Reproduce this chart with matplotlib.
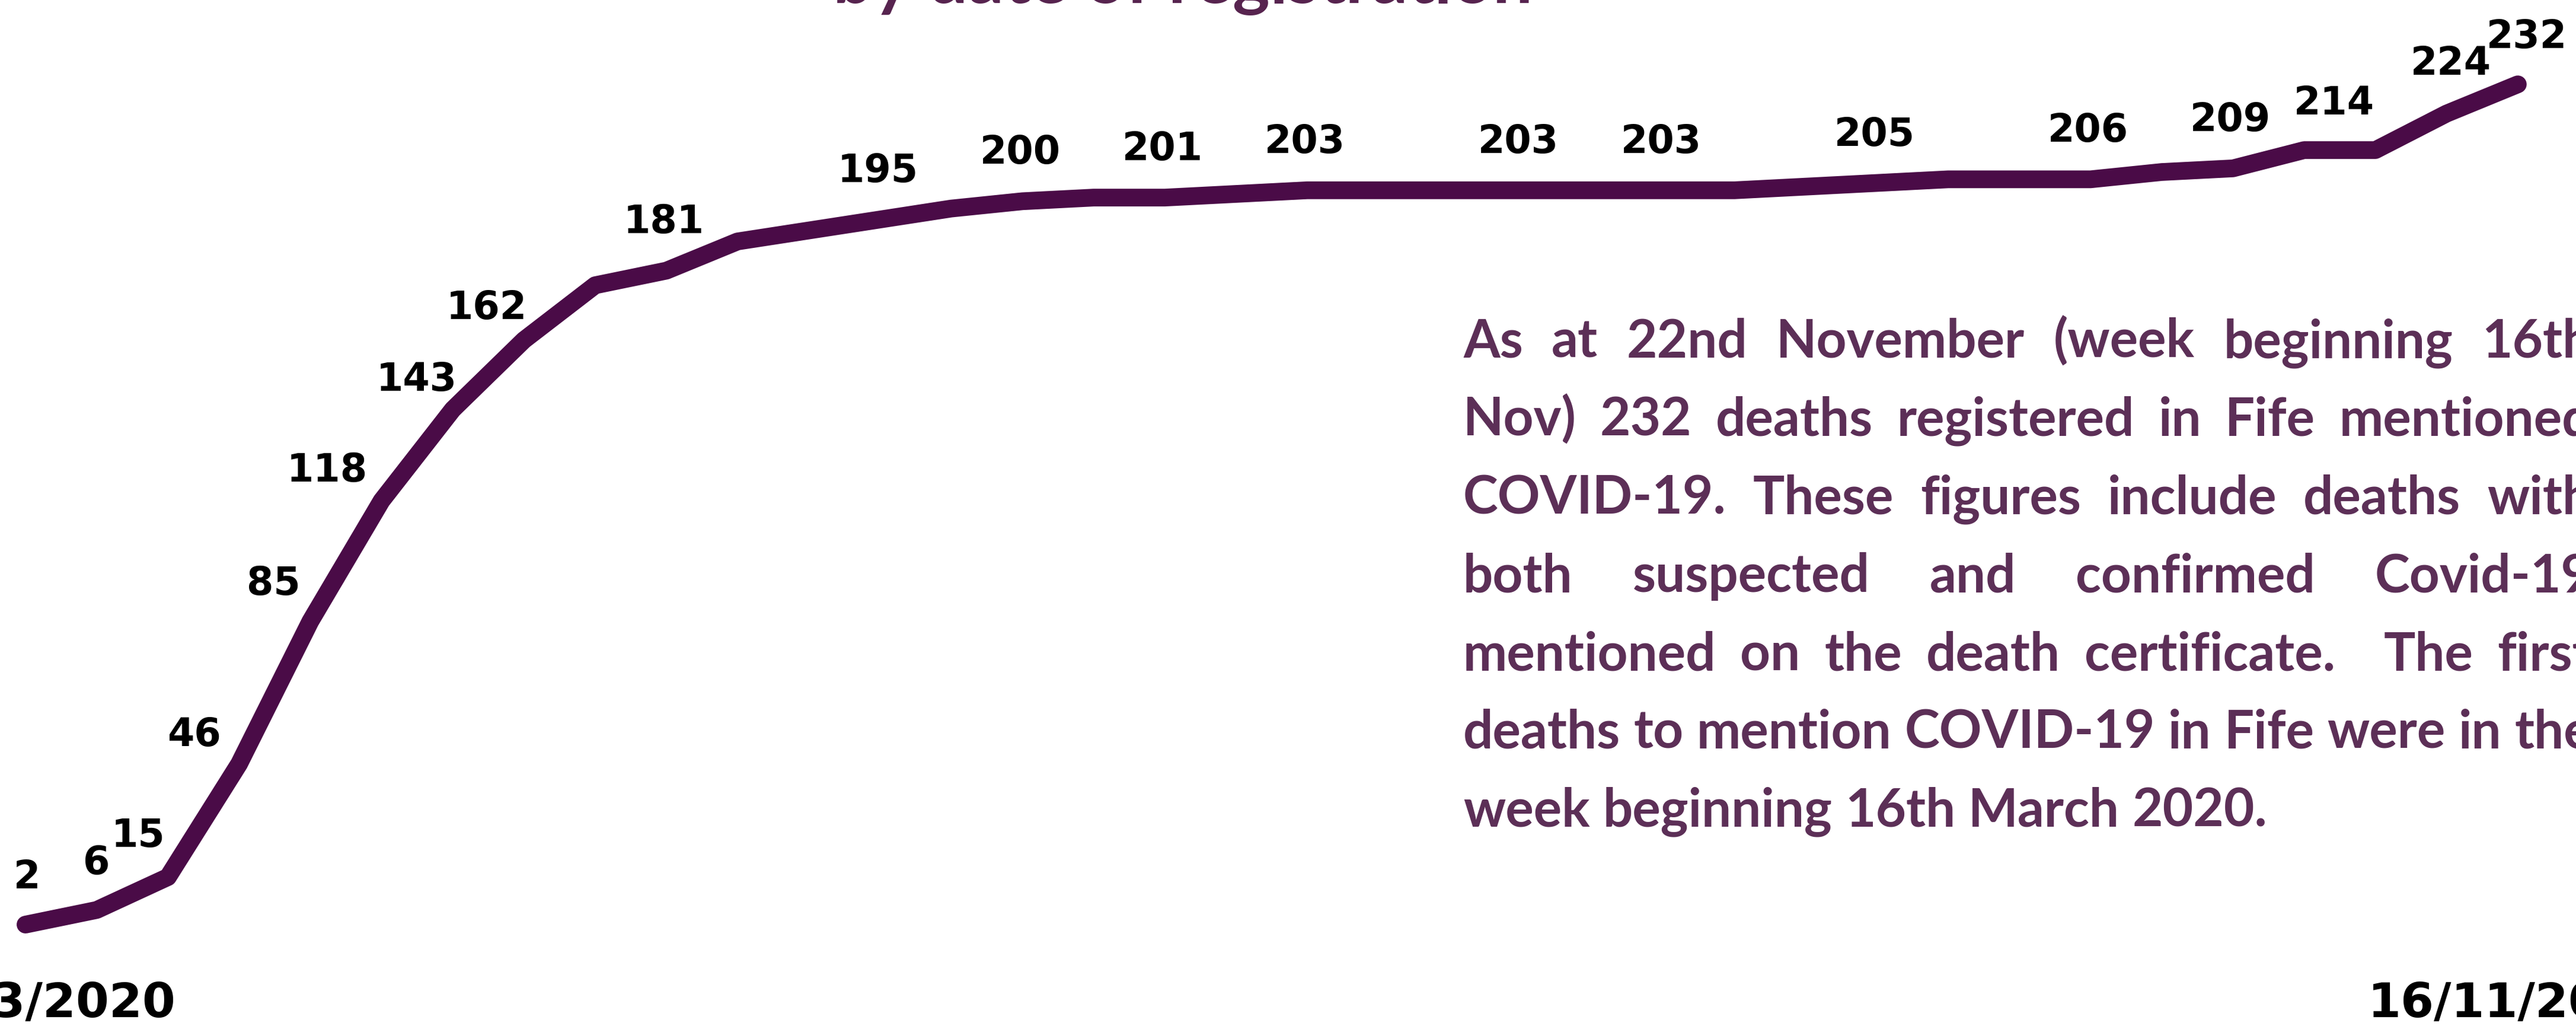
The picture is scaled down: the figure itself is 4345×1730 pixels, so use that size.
import pandas as pd
import matplotlib
matplotlib.use('Agg')
from matplotlib import pyplot as plt
from matplotlib import transforms
import matplotlib.dates as mdates

# cumulative deaths in Fife mentioning COVID-19, by week of registration
week_start = pd.date_range('2020-03-16', '2020-11-16', freq='7D')
deaths = [2, 6, 15, 46, 85, 118, 143, 162, 177, 181,
          189, 192, 195, 198, 200, 201, 201, 202, 203, 203,
          203, 203, 203, 203, 203, 204, 205, 206, 206, 206,
          208, 209, 214, 214, 224, 232]
labelled_weeks = [0, 1, 2, 3, 4, 5, 6, 7, 9, 12, 14, 16, 18, 21, 23, 26, 29, 31, 33, 34, 35]

title_tail = 'by date of registration'
note_lines = ['As at 22nd November (week beginning 16th',
              'Nov) 232 deaths registered in Fife mentioned',
              'COVID-19. These figures include deaths with',
              'both suspected and confirmed Covid-19',
              'mentioned on the death certificate.  The first',
              'deaths to mention COVID-19 in Fife were in the',
              'week beginning 16th March 2020.']

# label nudges (pixels) for the steep part where labels sit left of the line
label_shift = {0: (3, 86), 1: (0, 85), 2: (-50, 76), 3: (-76, 55), 4: (-62, 70),
               5: (-92, 57), 6: (-61, 56), 7: (-63, 60), 33: (-70, 85),
               34: (7, 90), 35: (15, 86)}

W, H, DPI = 4345, 1731, 100
LINE_COL = '#4a0b47'
TEXT_COL = '#5c2f57'

fig = plt.figure(figsize=(W / DPI, H / DPI), dpi=DPI, facecolor='white')
ax = fig.add_axes([0, 91 / H, 1, 1 - 91 / H])

ax.plot(week_start, deaths, color=LINE_COL, lw=21.5,
        solid_capstyle='round', solid_joinstyle='round')

for i in labelled_weeks:
    dx, dy = label_shift.get(i, (-4, 88))
    ax.annotate(str(deaths[i]), (week_start[i], deaths[i]), xytext=(dx, dy - 24),
                textcoords='offset pixels', ha='center', va='baseline',
                fontsize=47, fontweight='bold', family='DejaVu Sans', color='black')

# axis scaling: first week at x=43px, 120.1px per week
x0 = mdates.date2num(week_start[0])
px_per_day = 120.11 / 7
ax.set_xlim(x0 - 43 / px_per_day, x0 + (W - 43) / px_per_day)
ax.set_ylim(2 - 80 / 6.16, 2 + 1560 / 6.16)

ax.set_xticks([week_start[0], week_start[-1]])
ax.set_xticklabels([d.strftime('%d/%m/%Y') for d in [week_start[0], week_start[-1]]],
                   fontsize=58, fontweight='bold', family='DejaVu Sans')
ax.tick_params(axis='x', length=0, pad=10)
ax.set_yticks([])
for s in ax.spines.values():
    s.set_visible(False)
ax.patch.set_alpha(0)

# title, mostly cropped off the top
fig.text(1995 / W, 1 - 5 / H, title_tail, ha='center', va='baseline',
         family='Lato', fontweight='bold', fontsize=86, color='#57244f')

# justified note block
renderer = fig.canvas.get_renderer()
ident = transforms.IdentityTransform()
note_kw = dict(family='Lato', fontweight='bold', fontsize=64, color=TEXT_COL)
probe = fig.text(0, 0, 'a a', transform=ident, **note_kw)
w_two = probe.get_window_extent(renderer).width
probe.set_text('aa')
space_w = w_two - probe.get_window_extent(renderer).width
probe.remove()

left, right = 2468, 4372
for k, line in enumerate(note_lines):
    words = line.split(' ')
    arts = [fig.text(0, 0, w, transform=ident, va='baseline', **note_kw) for w in words]
    widths = [a.get_window_extent(renderer).width if w else 0 for a, w in zip(arts, words)]
    gaps = len(words) - 1
    gap = space_w
    if k < len(note_lines) - 1:
        gap = space_w + (right - left - sum(widths) - gaps * space_w) / gaps
    x = left
    y = H - (603 + k * 131.8)
    for a, w in zip(arts, widths):
        a.set_position((x, y))
        x += w + gap

fig.savefig('out.png', dpi=DPI, facecolor='white')
